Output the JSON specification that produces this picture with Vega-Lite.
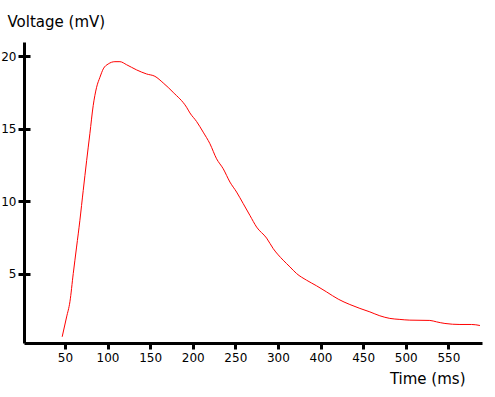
{
  "$schema": "https://vega.github.io/schema/vega-lite/v6.json",
  "autosize": "none",
  "width": 458,
  "height": 301,
  "padding": {"top": 42, "left": 24, "right": 13, "bottom": 54},
  "background": "white",
  "config": {
    "view": {"stroke": null},
    "font": "DejaVu Sans",
    "axis": {"grid": false, "labelFont": "DejaVu Sans", "titleFont": "DejaVu Sans", "labelColor": "#000", "titleColor": "#000", "domainColor": "#000", "tickColor": "#000"}
  },
  "data": {
    "values": [
      {"t": 46.8, "v": 0.63}, {"t": 52, "v": 2.0}, {"t": 55.9, "v": 3.05}, {"t": 59.8, "v": 5.0},
      {"t": 63.7, "v": 6.83}, {"t": 67.6, "v": 8.68}, {"t": 71.5, "v": 10.74}, {"t": 75.5, "v": 12.8},
      {"t": 79.3, "v": 14.66}, {"t": 83.2, "v": 16.6}, {"t": 87.2, "v": 17.87}, {"t": 91.1, "v": 18.56},
      {"t": 95, "v": 19.14}, {"t": 100.8, "v": 19.48}, {"t": 108.7, "v": 19.64}, {"t": 114.6, "v": 19.64},
      {"t": 122.4, "v": 19.43}, {"t": 134.2, "v": 19.07}, {"t": 145.9, "v": 18.79}, {"t": 155.6, "v": 18.63},
      {"t": 165.4, "v": 18.17}, {"t": 177.1, "v": 17.52}, {"t": 192.8, "v": 16.49}, {"t": 196.7, "v": 16.1},
      {"t": 204.6, "v": 15.5}, {"t": 212.3, "v": 14.77}, {"t": 220.2, "v": 13.97}, {"t": 228, "v": 12.93},
      {"t": 235.8, "v": 12.24}, {"t": 243.7, "v": 11.32}, {"t": 251.5, "v": 10.63}, {"t": 259.3, "v": 9.83},
      {"t": 267.1, "v": 9.02}, {"t": 275, "v": 8.21}, {"t": 286.7, "v": 7.45}, {"t": 294.5, "v": 6.72},
      {"t": 306.2, "v": 5.92}, {"t": 314.1, "v": 5.46}, {"t": 321.9, "v": 5.0}, {"t": 333.6, "v": 4.54},
      {"t": 345.4, "v": 4.15}, {"t": 357.1, "v": 3.73}, {"t": 370.8, "v": 3.23}, {"t": 384.4, "v": 2.86},
      {"t": 396.2, "v": 2.59}, {"t": 407.9, "v": 2.35}, {"t": 419.6, "v": 2.08}, {"t": 431.3, "v": 1.9},
      {"t": 443.1, "v": 1.83}, {"t": 454.8, "v": 1.78}, {"t": 478.3, "v": 1.76}, {"t": 486.2, "v": 1.66},
      {"t": 496, "v": 1.55}, {"t": 513.6, "v": 1.48}, {"t": 527.3, "v": 1.48}, {"t": 537.1, "v": 1.41}
    ]
  },
  "layer": [
    {
      "mark": {"type": "line", "color": "#ff0000", "strokeWidth": 1, "interpolate": "monotone", "clip": true},
      "encoding": {
        "x": {
          "field": "t", "type": "quantitative",
          "scale": {"domain": [2, 539.5], "nice": false, "zero": false},
          "axis": {
            "values": [50, 100, 150, 200, 250, 300, 350, 400, 450, 500],
            "labelExpr": "datum.value >= 350 ? datum.value + 50 : datum.value",
            "domainWidth": 3, "tickWidth": 3, "tickSize": 6,
            "labelFontSize": 12, "labelPadding": 3,
            "title": "Time (ms)", "titleFontSize": 15, "titleFontWeight": "normal",
            "titleAlign": "right", "titleBaseline": "middle", "titleX": 441, "titleY": 35
          }
        },
        "y": {
          "field": "v", "type": "quantitative",
          "scale": {"domain": [0.2, 21], "nice": false, "zero": false},
          "axis": {
            "values": [5, 10, 15, 20],
            "domainWidth": 3, "tickWidth": 3, "tickSize": 6,
            "labelFontSize": 12, "labelPadding": 2,
            "title": "Voltage (mV)", "titleFontSize": 15, "titleFontWeight": "normal",
            "titleAngle": 0, "titleAlign": "left", "titleBaseline": "middle", "titleX": -17, "titleY": -21
          }
        }
      }
    },
    {
      "mark": {"type": "line", "strokeOpacity": 0},
      "encoding": {
        "x": {"field": "t", "type": "quantitative"},
        "y": {
          "field": "v", "type": "quantitative",
          "axis": {"orient": "left", "values": [5, 10, 15, 20], "domain": false, "labels": false, "title": null, "tickWidth": 3, "tickSize": -6}
        }
      }
    }
  ],
  "resolve": {"axis": {"y": "independent"}}
}
